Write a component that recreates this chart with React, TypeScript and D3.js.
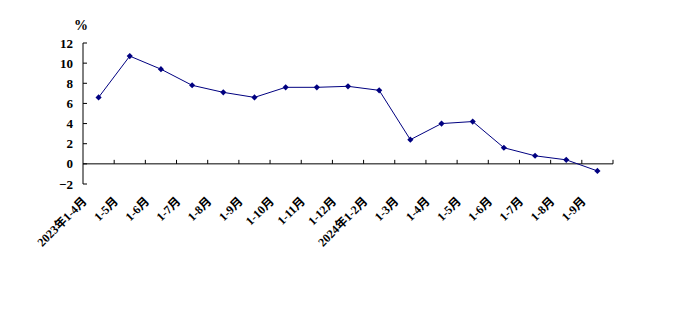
import React from "react";
import * as d3 from "d3";

const categories = [
  "2023年1-4月", "1-5月", "1-6月", "1-7月", "1-8月", "1-9月", "1-10月", "1-11月", "1-12月",
  "2024年1-2月", "1-3月", "1-4月", "1-5月", "1-6月", "1-7月", "1-8月", "1-9月",
];
const values = [6.6, 10.7, 9.4, 7.8, 7.1, 6.6, 7.6, 7.6, 7.7, 7.3, 2.4, 4.0, 4.2, 1.6, 0.8, 0.4, -0.7];
const yTicks = [-2, 0, 2, 4, 6, 8, 10, 12];

export default function App() {
  const W = 696, H = 331;
  const left = 83, right = 613, top = 43, bottom = 184;
  const x = d3.scaleBand<string>().domain(categories.map((c, i) => i + "")).range([left, right]);
  const y = d3.scaleLinear().domain([-2, 12]).range([bottom, top]);
  const cx = (i: number) => (x(i + "") as number) + x.bandwidth() / 2;
  const line = d3.line<number>().x((_, i) => cx(i)).y((d) => y(d));
  const font = "'Liberation Serif', 'Noto Sans CJK SC', serif";
  const y0 = y(0);
  const sym = (d3 as any).symbolDiamond2 || d3.symbolSquare;
  return (
    <svg width={W} height={H} style={{ position: "absolute", left: 0, top: 0, background: "#fff" }}>
      <text x={81} y={30} fontFamily={font} fontWeight="bold" fontSize={14} textAnchor="middle">%</text>
      <line x1={left} x2={left} y1={top} y2={bottom} stroke="#000" />
      {yTicks.map((t) => (
        <g key={t}>
          <line x1={left} x2={left + 4} y1={y(t)} y2={y(t)} stroke="#000" />
          <text x={left - 10} y={y(t)} dy="0.35em" textAnchor="end" fontFamily={font} fontWeight="bold" fontSize={13}>
            {t < 0 ? "−" + Math.abs(t) : t}
          </text>
        </g>
      ))}
      <line x1={left} x2={right} y1={y0} y2={y0} stroke="#000" />
      {categories.map((c, i) => (
        <line key={"t" + i} x1={(x(i + "") as number) + x.bandwidth()} x2={(x(i + "") as number) + x.bandwidth()} y1={y0} y2={y0 - 4} stroke="#000" />
      ))}
      {categories.map((c, i) => (
        <text key={"l" + i} transform={`translate(${cx(i) - 11},${202}) rotate(-45)`} textAnchor="end" fontFamily={font} fontWeight="bold" fontSize={12}>
          {c}
        </text>
      ))}
      <path d={line(values) || ""} fill="none" stroke="#000080" strokeWidth={1} />
      {values.map((v, i) => (
        <path key={"m" + i} d={d3.symbol(sym, 24)() || ""} transform={`translate(${cx(i)},${y(v)})`} fill="#000080" />
      ))}
    </svg>
  );
}
